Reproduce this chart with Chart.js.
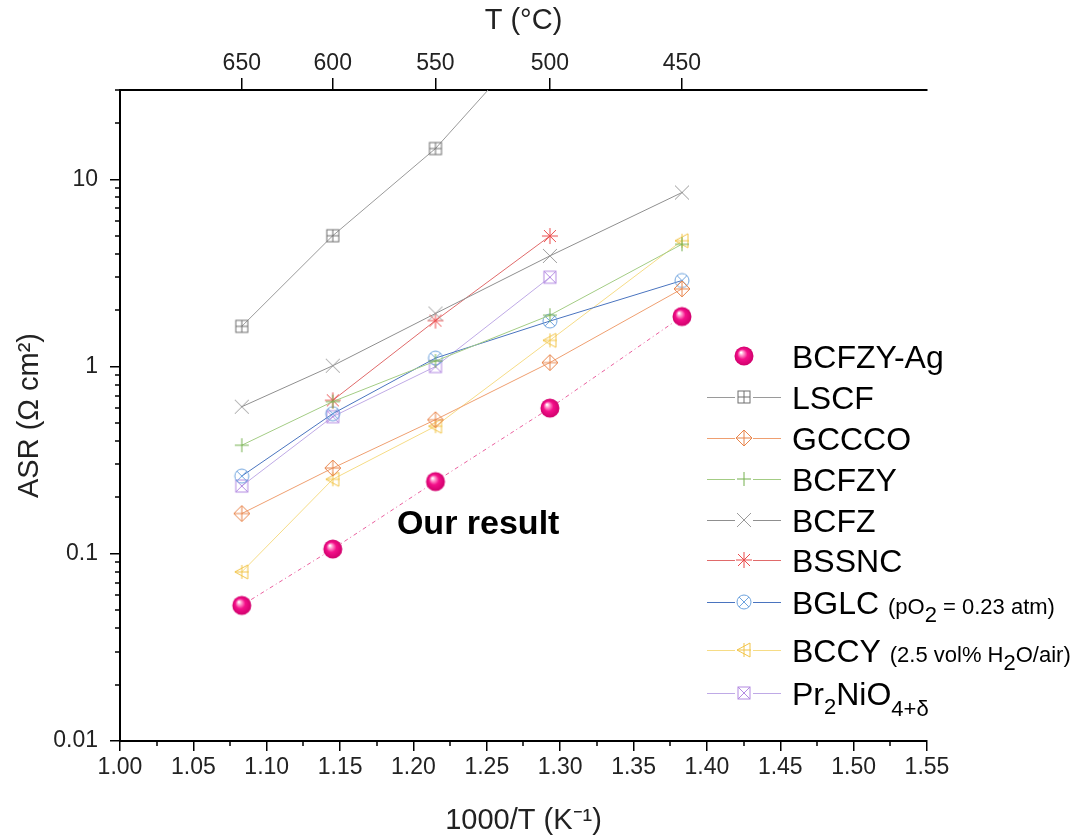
<!DOCTYPE html>
<html>
<head>
<meta charset="utf-8">
<script src="https://cdn.jsdelivr.net/npm/chart.js@4.4.1/dist/chart.umd.min.js"></script>
<style>
  body { margin: 0; background: #fff; }
  #wrap { width: 1081px; height: 839px; }
</style>
</head>
<body>
<div id="wrap"><canvas id="asrChart" width="1081" height="839"></canvas></div>
<script>
// x positions (1000/T) and the matching temperatures on the top axis
const invT = [1.083, 1.145, 1.215, 1.293, 1.383];
const tempC = [650, 600, 550, 500, 450];

// ASR values (ohm cm2) at each temperature, null = not measured
const asrBCFZYAg = [0.053, 0.106, 0.243, 0.60, 1.85];
const asrLSCF = [1.64, 5.0, 14.6, 70, null];
const asrGCCCO = [0.164, 0.287, 0.52, 1.05, 2.6];
const asrBCFZY = [0.38, 0.65, 1.07, 1.88, 4.5];
const asrBCFZ = [0.61, 1.01, 1.92, 3.9, 8.5];
const asrBSSNC = [null, 0.66, 1.76, 4.98, null];
const asrBGLC = [0.26, 0.56, 1.11, 1.75, 2.88];
const asrBCCY = [0.08, 0.25, 0.48, 1.38, 4.7];
const asrPr2NiO4 = [0.23, 0.54, 1.0, 3.0, null];

const xTicks = [1.00, 1.05, 1.10, 1.15, 1.20, 1.25, 1.30, 1.35, 1.40, 1.45, 1.50, 1.55];
const yTicks = [0.01, 0.1, 1, 10];

const FONT = '"Liberation Sans", Arial, sans-serif';

// small canvases used as point markers
function makeMarker(kind, color) {
  const size = kind === "sphere" ? 22 : 20;
  const c = document.createElement("canvas");
  c.width = size;
  c.height = size;
  const g = c.getContext("2d");
  const m = size / 2;
  g.strokeStyle = color;
  g.lineWidth = 1;
  const line = (x1, y1, x2, y2) => {
    g.beginPath();
    g.moveTo(x1, y1);
    g.lineTo(x2, y2);
    g.stroke();
  };
  if (kind === "sqplus") {
    g.strokeRect(m - 6, m - 6, 12, 12);
    line(m, m - 6, m, m + 6);
    line(m - 6, m, m + 6, m);
  } else if (kind === "diamond") {
    g.beginPath();
    g.moveTo(m, m - 8);
    g.lineTo(m + 8, m);
    g.lineTo(m, m + 8);
    g.lineTo(m - 8, m);
    g.closePath();
    g.stroke();
    line(m, m - 8, m, m + 8);
    line(m - 8, m, m + 8, m);
  } else if (kind === "plus") {
    line(m, m - 7, m, m + 7);
    line(m - 7, m, m + 7, m);
  } else if (kind === "cross") {
    line(m - 7, m - 7, m + 7, m + 7);
    line(m - 7, m + 7, m + 7, m - 7);
  } else if (kind === "star") {
    line(m, m - 8, m, m + 8);
    line(m - 8, m, m + 8, m);
    line(m - 6, m - 6, m + 6, m + 6);
    line(m - 6, m + 6, m + 6, m - 6);
  } else if (kind === "circx") {
    g.beginPath();
    g.arc(m, m, 7, 0, Math.PI * 2);
    g.stroke();
    line(m - 5, m - 5, m + 5, m + 5);
    line(m - 5, m + 5, m + 5, m - 5);
  } else if (kind === "triplus") {
    g.beginPath();
    g.moveTo(m - 7, m);
    g.lineTo(m + 6, m - 7);
    g.lineTo(m + 6, m + 7);
    g.closePath();
    g.stroke();
    line(m, m - 7, m, m + 7);
    line(m - 7, m, m + 7, m);
  } else if (kind === "sqx") {
    g.strokeRect(m - 6, m - 6, 12, 12);
    line(m - 6, m - 6, m + 6, m + 6);
    line(m - 6, m + 6, m + 6, m - 6);
  } else if (kind === "sphere") {
    const grad = g.createRadialGradient(m - 3, m - 3.5, 0.5, m, m, 9.5);
    grad.addColorStop(0, "#ffffff");
    grad.addColorStop(0.18, "#ff9fd0");
    grad.addColorStop(0.5, "#f4108a");
    grad.addColorStop(1, "#d0006c");
    g.fillStyle = grad;
    g.beginPath();
    g.arc(m, m, 9.5, 0, Math.PI * 2);
    g.fill();
  }
  return c;
}

const series = [
  { name: "BCFZY-Ag", vals: asrBCFZYAg, line: "#ea5f9e", marker: makeMarker("sphere"), dash: [4, 3, 1, 3] },
  { name: "LSCF", vals: asrLSCF, line: "#9a9a9a", marker: makeMarker("sqplus", "#6f6f6f") },
  { name: "GCCCO", vals: asrGCCCO, line: "#ef9f70", marker: makeMarker("diamond", "#e8844a") },
  { name: "BCFZY", vals: asrBCFZY, line: "#a3cc84", marker: makeMarker("plus", "#74b04e") },
  { name: "BCFZ", vals: asrBCFZ, line: "#8f8f8f", marker: makeMarker("cross", "#9a9a9a") },
  { name: "BSSNC", vals: asrBSSNC, line: "#e06a6a", marker: makeMarker("star", "#ea4a4a") },
  { name: "BGLC", vals: asrBGLC, line: "#4a74bf", marker: makeMarker("circx", "#6ea3de") },
  { name: "BCCY", vals: asrBCCY, line: "#f6dc86", marker: makeMarker("triplus", "#f2c448") },
  { name: "Pr2NiO4", vals: asrPr2NiO4, line: "#bfaae6", marker: makeMarker("sqx", "#b38ae2") },
];

const datasets = series.map((s) => ({
  label: s.name,
  data: invT.map((x, i) => ({ x: x, y: s.vals[i] })).filter((p) => p.y !== null),
  borderColor: s.line,
  borderWidth: 1,
  borderDash: s.dash || [],
  pointStyle: s.marker,
  pointRadius: 5,
  pointHoverRadius: 5,
  fill: false,
  tension: 0,
}));

// legend rows: pieces of text with size and vertical shift (for sub scripts)
const legendRows = [
  [{ t: "BCFZY-Ag", s: 32 }],
  [{ t: "LSCF", s: 32 }],
  [{ t: "GCCCO", s: 32 }],
  [{ t: "BCFZY", s: 32 }],
  [{ t: "BCFZ", s: 32 }],
  [{ t: "BSSNC", s: 32 }],
  [{ t: "BGLC ", s: 32 }, { t: "(pO", s: 22 }, { t: "2", s: 22, dy: 8 }, { t: " = 0.23 atm)", s: 22 }],
  [{ t: "BCCY ", s: 32 }, { t: "(2.5 vol% H", s: 22 }, { t: "2", s: 22, dy: 8 }, { t: "O/air)", s: 22 }],
  [{ t: "Pr", s: 32 }, { t: "2", s: 22, dy: 9 }, { t: "NiO", s: 32 }, { t: "4+δ", s: 22, dy: 11 }],
];
const legendY = [356, 397, 438, 479, 520, 560, 602, 650, 693];

const extrasPlugin = {
  id: "extras",
  afterDraw(chart) {
    const ctx = chart.ctx;
    const xs = chart.scales.x;
    const ys = chart.scales.y;
    const area = chart.chartArea;
    ctx.save();
    // minor ticks
    ctx.strokeStyle = "#000";
    ctx.lineWidth = 1.5;
    for (let i = 0; i < xTicks.length - 1; i++) {
      const px = Math.round(xs.getPixelForValue((xTicks[i] + xTicks[i + 1]) / 2));
      ctx.beginPath();
      ctx.moveTo(px, area.bottom);
      ctx.lineTo(px, area.bottom + 5);
      ctx.stroke();
    }
    yTicks.forEach((d) => {
      for (let k = 2; k <= 9; k++) {
        const v = d * k;
        if (v > ys.max) continue;
        const py = Math.round(ys.getPixelForValue(v));
        ctx.beginPath();
        ctx.moveTo(area.left - 5, py);
        ctx.lineTo(area.left, py);
        ctx.stroke();
      }
    });

    // annotation
    ctx.fillStyle = "#000";
    ctx.font = "bold 34px " + FONT;
    ctx.textAlign = "center";
    ctx.textBaseline = "middle";
    ctx.fillText("Our result", xs.getPixelForValue(1.2441), ys.getPixelForValue(0.143));

    // legend
    ctx.textAlign = "left";
    ctx.textBaseline = "alphabetic";
    series.forEach((s, i) => {
      const y = legendY[i];
      if (i > 0) {
        ctx.strokeStyle = s.line;
        ctx.lineWidth = 1;
        ctx.setLineDash([]);
        ctx.beginPath();
        ctx.moveTo(707, y + 0.5);
        ctx.lineTo(735, y + 0.5);
        ctx.moveTo(753, y + 0.5);
        ctx.lineTo(781, y + 0.5);
        ctx.stroke();
      }
      ctx.drawImage(s.marker, 744 - s.marker.width / 2, y - s.marker.height / 2);
      let x = 792;
      const base = y + 11.5;
      legendRows[i].forEach((p) => {
        ctx.font = p.s + "px " + FONT;
        ctx.fillStyle = "#000";
        ctx.fillText(p.t, x, base + (p.dy || 0));
        x += ctx.measureText(p.t).width;
      });
    });
    ctx.restore();
  },
};

new Chart(document.getElementById("asrChart"), {
  type: "line",
  data: { datasets: datasets },
  options: {
    responsive: false,
    animation: false,
    layout: { padding: { left: 0, right: 154, top: 0, bottom: 0 } },
    plugins: { legend: { display: false }, tooltip: { enabled: false } },
    scales: {
      x: {
        type: "linear",
        position: "bottom",
        min: 1.0,
        max: 1.55,
        afterBuildTicks: (axis) => { axis.ticks = xTicks.map((v) => ({ value: v })); },
        afterFit: (axis) => { axis.height = 98; },
        ticks: {
          callback: (v) => Number(v).toFixed(2),
          font: { size: 23, family: FONT },
          color: "#222",
          padding: 3,
          maxRotation: 0,
          autoSkip: false,
        },
        grid: { display: true, drawOnChartArea: false, drawTicks: true, tickLength: 10, color: "#000", lineWidth: 1.5 },
        border: { display: true, color: "#000", width: 2 },
        title: { display: true, text: "1000/T (K⁻¹)", font: { size: 29, family: FONT }, color: "#222", padding: { top: 0, bottom: 1 } },
      },
      x2: {
        type: "linear",
        position: "top",
        min: 1.0,
        max: 1.55,
        afterBuildTicks: (axis) => { axis.ticks = invT.map((v) => ({ value: v })); },
        afterFit: (axis) => { axis.height = 90; },
        ticks: {
          callback: (v, i) => String(tempC[i]),
          font: { size: 23, family: FONT },
          color: "#222",
          padding: 1,
          maxRotation: 0,
          autoSkip: false,
        },
        grid: { display: true, drawOnChartArea: false, drawTicks: true, tickLength: 12, color: "#000", lineWidth: 1.5 },
        border: { display: true, color: "#000", width: 2 },
        title: { display: true, text: "T (°C)", font: { size: 29, family: FONT }, color: "#222", padding: { top: 4, bottom: 0 } },
      },
      y: {
        type: "logarithmic",
        position: "left",
        min: 0.01,
        max: 30,
        afterBuildTicks: (axis) => { axis.ticks = yTicks.map((v) => ({ value: v })); },
        afterFit: (axis) => { axis.width = 120; },
        ticks: {
          callback: (v) => String(v),
          font: { size: 23, family: FONT },
          color: "#222",
          padding: 12,
          autoSkip: false,
        },
        grid: { display: true, drawOnChartArea: false, drawTicks: true, tickLength: 10, color: "#000", lineWidth: 1.5 },
        border: { display: true, color: "#000", width: 2 },
        title: { display: true, text: "ASR (Ω cm²)", font: { size: 29, family: FONT }, color: "#222", padding: { top: 13, bottom: 0 } },
      },
    },
  },
  plugins: [extrasPlugin],
});
</script>
</body>
</html>
